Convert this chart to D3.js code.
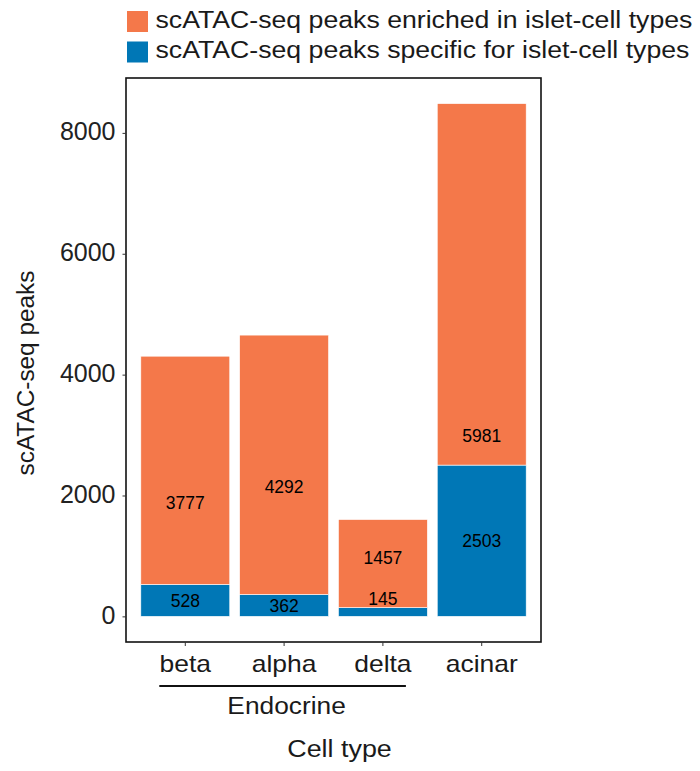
<!DOCTYPE html>
<html>
<head>
<meta charset="utf-8">
<script src="https://cdn.jsdelivr.net/npm/d3@7"></script>
<style>
  html, body { margin: 0; padding: 0; background: #fff; }
  svg { display: block; font-family: "Liberation Sans", Arial, Helvetica, sans-serif; }
</style>
</head>
<body>
<svg id="chart" width="700" height="771"></svg>
<script>
// Cell types on the x axis
const cellTypes = ["beta", "alpha", "delta", "acinar"];
// Peaks specific for each islet-cell type (bottom segment)
const specificPeaks = [528, 362, 145, 2503];
// Peaks enriched in each islet-cell type (top segment)
const enrichedPeaks = [3777, 4292, 1457, 5981];
// Y axis ticks
const yTicks = [0, 2000, 4000, 6000, 8000];
// Series names and colours
const seriesNames = ["scATAC-seq peaks enriched in islet-cell types",
                     "scATAC-seq peaks specific for islet-cell types"];
const seriesColors = ["#f4784a", "#0077b6"];
// Cell types grouped under the "Endocrine" bracket
const endocrineGroup = ["beta", "alpha", "delta"];

const svg = d3.select("#chart");
const panel = { left: 126, right: 541, top: 78, bottom: 642 };
const textColor = "#1a1a1a";

const totals = cellTypes.map((c, i) => specificPeaks[i] + enrichedPeaks[i]);
const yMax = d3.max(totals);
const pad = yMax * 0.05;

const x = d3.scaleBand()
  .domain(cellTypes)
  .range([panel.left, panel.right])
  .paddingInner(0.1)
  .paddingOuter(0.15);

const y = d3.scaleLinear()
  .domain([-pad, yMax + pad])
  .range([panel.bottom, panel.top]);

// Stacked bars: specific at bottom, enriched on top
const rows = cellTypes.map((c, i) => ({ type: c, specific: specificPeaks[i], enriched: enrichedPeaks[i] }));
const stack = d3.stack().keys(["specific", "enriched"])(rows);
const colorOf = { specific: seriesColors[1], enriched: seriesColors[0] };

svg.append("g").selectAll("g")
  .data(stack)
  .join("g")
  .attr("fill", d => colorOf[d.key])
  .selectAll("rect")
  .data(d => d)
  .join("rect")
  .attr("x", d => x(d.data.type))
  .attr("width", x.bandwidth())
  .attr("y", d => y(d[1]))
  .attr("height", d => y(d[0]) - y(d[1]))
  .attr("stroke", "#fff")
  .attr("stroke-width", 0.6);

// Value labels sit at half of each segment's value; the small delta bar gets lifted
const labelLift = { delta: [215, 237] };
const labelData = [];
rows.forEach(r => {
  const lift = labelLift[r.type] || [0, 0];
  labelData.push({ type: r.type, v: r.specific, pos: r.specific / 2 + lift[0] });
  labelData.push({ type: r.type, v: r.enriched, pos: r.enriched / 2 + lift[1] });
});
svg.append("g").selectAll("text")
  .data(labelData)
  .join("text")
  .attr("x", d => x(d.type) + x.bandwidth() / 2)
  .attr("y", d => y(d.pos))
  .attr("dy", "0.36em")
  .attr("text-anchor", "middle")
  .attr("font-size", "17.5px")
  .attr("fill", "#000")
  .text(d => d.v);

// Panel border
svg.append("rect")
  .attr("x", panel.left).attr("y", panel.top)
  .attr("width", panel.right - panel.left)
  .attr("height", panel.bottom - panel.top)
  .attr("fill", "none")
  .attr("stroke", "#111")
  .attr("stroke-width", 1.6);

// Y axis
const yAxis = d3.axisLeft(y).tickValues(yTicks).tickSize(3.5).tickPadding(7).tickFormat(d3.format("d"));
const gy = svg.append("g").attr("transform", `translate(${panel.left},0)`).call(yAxis);
gy.select(".domain").remove();
gy.selectAll(".tick line").attr("stroke", "#333").attr("stroke-width", 1);
gy.selectAll(".tick text")
  .attr("font-size", "25px")
  .attr("font-family", "'Liberation Sans', Arial, sans-serif")
  .attr("fill", "#222")
  .attr("dy", "0.28em");

// X axis
const xAxis = d3.axisBottom(x).tickSize(4).tickFormat("");
const gx = svg.append("g").attr("transform", `translate(0,${panel.bottom})`).call(xAxis);
gx.select(".domain").remove();
gx.selectAll(".tick line").attr("stroke", "#333").attr("stroke-width", 1);

// Helper for horizontally widened text
function wideText(parent, tx, ty, sx, size, anchor, str, rotate) {
  return parent.append("text")
    .attr("transform", `translate(${tx},${ty})` + (rotate ? ` rotate(${rotate})` : "") + ` scale(${sx},1)`)
    .attr("text-anchor", anchor)
    .attr("font-size", size + "px")
    .attr("fill", textColor)
    .text(str);
}

// Category labels
cellTypes.forEach(c => {
  wideText(svg, x(c) + x.bandwidth() / 2, 672, 1.15, 23, "middle", c);
});

// Endocrine bracket
const eStart = x(endocrineGroup[0]) + x.bandwidth() / 2 - 26;
const eEnd = x(endocrineGroup[endocrineGroup.length - 1]) + x.bandwidth() / 2 + 23;
svg.append("line")
  .attr("x1", eStart).attr("x2", eEnd)
  .attr("y1", 686).attr("y2", 686)
  .attr("stroke", "#111").attr("stroke-width", 1.8);
wideText(svg, (eStart + eEnd) / 2 + 4, 714, 1.12, 23.5, "middle", "Endocrine");

// Axis titles
wideText(svg, (panel.left + panel.right) / 2 + 6, 757, 1.12, 24, "middle", "Cell type");
wideText(svg, 34, 373, 1.06, 23, "middle", "scATAC-seq peaks", -90);

// Legend
const legend = svg.append("g");
seriesNames.forEach((name, i) => {
  legend.append("rect")
    .attr("x", 127).attr("y", 11 + i * 30.5)
    .attr("width", 21).attr("height", 21)
    .attr("fill", seriesColors[i]);
  wideText(legend, 155.5, 28 + i * 30, 1.16, 23, "start", name);
});
</script>
</body>
</html>
